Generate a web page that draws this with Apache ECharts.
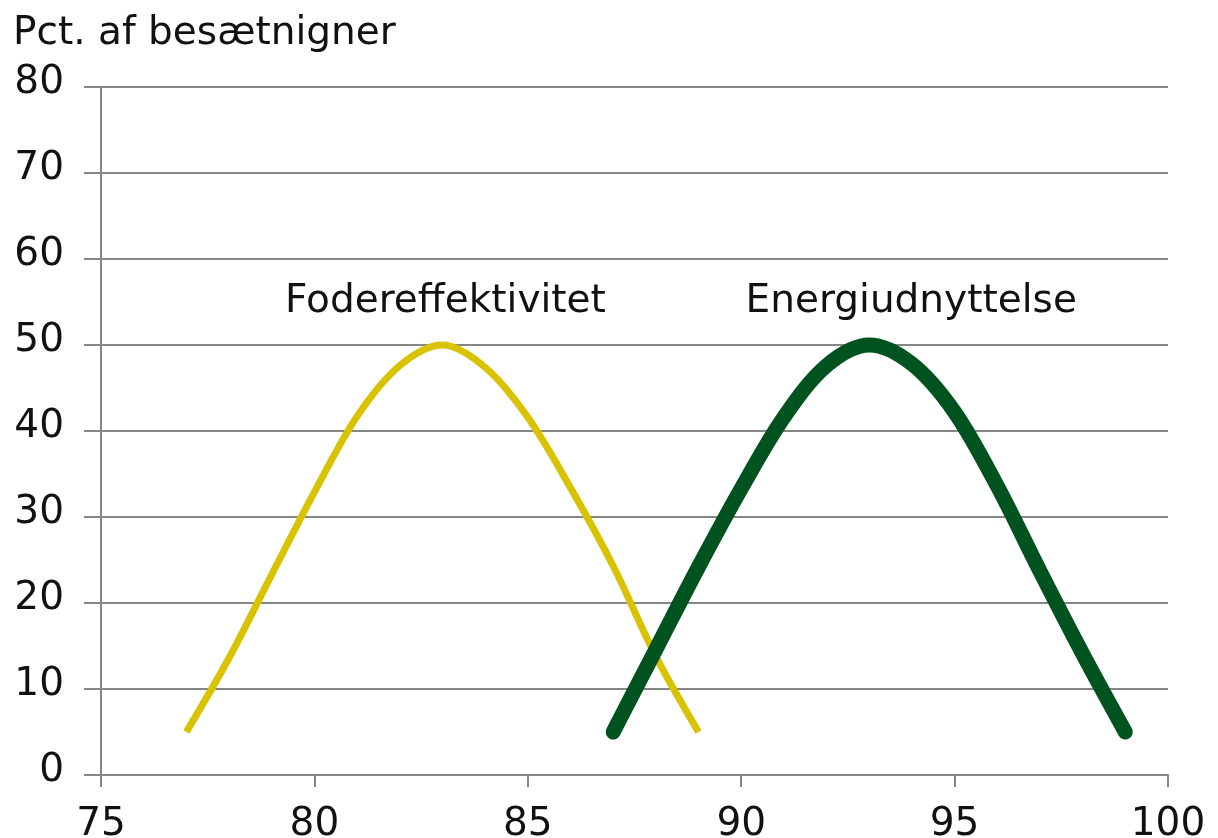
<!DOCTYPE html>
<html>
<head>
<meta charset="utf-8">
<script src="https://cdn.jsdelivr.net/npm/echarts@6/dist/echarts.min.js"></script>
<style>
  html, body { margin: 0; padding: 0; background: #fff; }
</style>
</head>
<body>
<div id="chart" style="width: 1218px; height: 838px;"></div>
<script>
// x-værdier (pct.) og andel af besætninger
const foderX = [77, 78, 79, 80, 81, 82, 83, 84, 85, 86, 87, 88, 89];
const foderY = [5, 13.6, 23.3, 32.9, 41.7, 47.6, 50, 47.4, 41.6, 33.4, 24.3, 13.8, 5];
const energiX = [87, 88, 89, 90, 91, 92, 93, 94, 95, 96, 97, 98, 99];
const energiY = [5, 14.6, 24.2, 33.3, 41.6, 47.6, 50, 47.8, 42.2, 33.6, 23.7, 14.1, 5];
const seriesNames = ['Fodereffektivitet', 'Energiudnyttelse'];
const yTitle = 'Pct. af besætnigner';

const FONT = '"DejaVu Sans", sans-serif';
const gray = '#868686';

// punkter til serien, med etiket over toppunktet
function toPoints(xs, ys, name, offsetX) {
  let peak = ys.indexOf(Math.max(...ys));
  return xs.map((x, i) => {
    if (i !== peak) return [x, ys[i]];
    return {
      value: [x, ys[i]],
      label: {
        show: true,
        formatter: name,
        position: 'top',
        distance: 23,
        offset: [offsetX, 0],
        color: '#111',
        fontFamily: FONT,
        fontSize: 39,
        lineHeight: 40,
      },
    };
  });
}

let chart = echarts.init(document.getElementById('chart'));

let option = {
  animation: false,
  title: {
    text: yTitle,
    left: 8,
    top: 9,
    textStyle: { color: '#111', fontFamily: FONT, fontSize: 39, fontWeight: 'normal', lineHeight: 40 },
  },
  grid: { left: 101, right: 50, top: 87, bottom: 63, outerBoundsMode: 'none' },
  xAxis: {
    type: 'value',
    min: 75,
    max: 100,
    interval: 5,
    axisLine: { lineStyle: { color: gray, width: 2 } },
    axisTick: { show: true, length: 12, lineStyle: { color: gray, width: 2 } },
    axisLabel: { color: '#111', fontFamily: FONT, fontSize: 39, margin: 30 },
    splitLine: { show: false },
  },
  yAxis: {
    type: 'value',
    min: 0,
    max: 80,
    interval: 10,
    axisLine: { show: true, lineStyle: { color: gray, width: 2 } },
    axisTick: { show: true, length: 17, lineStyle: { color: gray, width: 2 } },
    axisLabel: {
      color: '#111', fontFamily: FONT, fontSize: 39, margin: 37,
      verticalAlign: 'bottom', lineHeight: 8,
    },
    splitLine: { lineStyle: { color: gray, width: 2 } },
  },
  series: [
    {
      name: seriesNames[0],
      type: 'line',
      smooth: 0.33,
      symbolSize: 0,
      showSymbol: true,
      data: toPoints(foderX, foderY, seriesNames[0], 3),
      lineStyle: { color: '#d9c300', width: 7 },
      itemStyle: { color: '#d9c300' },
    },
    {
      name: seriesNames[1],
      type: 'line',
      smooth: 0.33,
      symbolSize: 0,
      showSymbol: true,
      data: toPoints(energiX, energiY, seriesNames[1], 42),
      lineStyle: { color: '#00531f', width: 15, cap: 'round', join: 'round' },
      itemStyle: { color: '#00531f' },
    },
  ],
};

chart.setOption(option);
</script>
</body>
</html>
